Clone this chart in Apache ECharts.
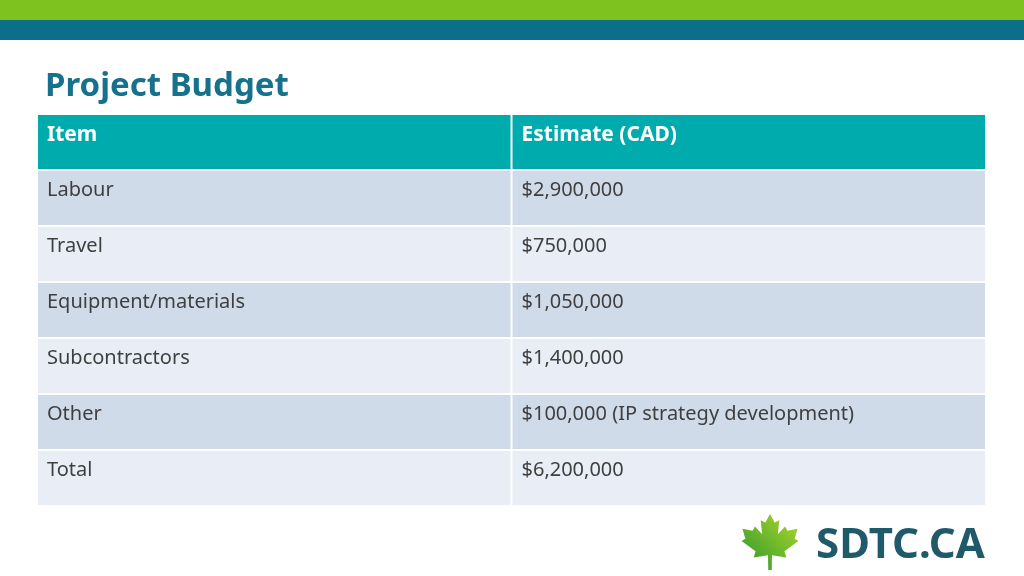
<!DOCTYPE html>
<html>
<head>
<meta charset="utf-8">
<script src="https://cdn.jsdelivr.net/npm/echarts@6/dist/echarts.min.js"></script>
<style>
  html, body { margin: 0; padding: 0; background: #fff; }
  #chart { width: 1024px; height: 576px; }
</style>
</head>
<body>
<div id="chart"></div>
<script>
// table contents
const columns = ["Item", "Estimate (CAD)"];
const items = ["Labour", "Travel", "Equipment/materials", "Subcontractors", "Other", "Total"];
const estimates = ["$2,900,000", "$750,000", "$1,050,000", "$1,400,000", "$100,000 (IP strategy development)", "$6,200,000"];

const rowNames = ["header"].concat(items);

// one cell per (col, row)
const cells = [];
columns.forEach((c, i) => cells.push([i, 0, c]));
items.forEach((it, r) => {
  cells.push([0, r + 1, it]);
  cells.push([1, r + 1, estimates[r]]);
});

const FONT = "'Noto Sans', sans-serif";

const chart = echarts.init(document.getElementById("chart"), null, { renderer: "canvas" });

// maple leaf outline, right half in unit coords (x 0..1, y -1..1), mirrored
const leafHalf = [
  [0, -1], [0.16, -0.7], [0.32, -0.78], [0.27, -0.28], [0.52, -0.55], [0.6, -0.4],
  [0.95, -0.47], [0.85, -0.12], [0.98, -0.04], [0.5, 0.33], [0.56, 0.55],
  [0.07, 0.47], [0.06, 1.0]
];
const leaf = leafHalf.concat([[-0.06, 1.0]]).concat(leafHalf.slice(1, -1).reverse().map(p => [-p[0], p[1]]))
  .map(p => [770 + p[0] * 29, 542 + p[1] * 28]);

chart.setOption({
  animation: false,
  grid: { left: 37, right: 38, top: 114, bottom: 70 },
  xAxis: { type: "category", data: columns, show: false },
  yAxis: { type: "category", data: rowNames, inverse: true, show: false },
  graphic: [
    { type: "rect", shape: { x: 0, y: 0, width: 1024, height: 20 }, style: { fill: "#7dc21e" } },
    { type: "rect", shape: { x: 0, y: 20, width: 1024, height: 20 }, style: { fill: "#0b6f89" } },
    {
      type: "text", left: 45, top: 70,
      style: { text: "Project Budget", fill: "#15718c", font: "bold 33px " + FONT }
    },
    {
      type: "polygon", shape: { points: leaf },
      style: {
        fill: new echarts.graphic.LinearGradient(0, 1, 1, 0, [
          { offset: 0, color: "#2a962e" }, { offset: 1, color: "#b0d82a" }
        ])
      }
    },
    {
      type: "text", left: 816, top: 525,
      style: { text: "SDTC.CA", fill: "#1f5a6b", font: "bold 42px " + FONT }
    }
  ],
  series: [{
    type: "custom",
    data: cells,
    renderItem: (params, api) => {
      const col = api.value(0), row = api.value(1);
      const c = api.coord([col, row]);
      const s = api.size([1, 1]);
      const x = c[0] - s[0] / 2, y = c[1] - s[1] / 2;
      const fill = row === 0 ? "#00abad" : (row % 2 === 1 ? "#d0dbea" : "#e9eef6");
      const text = cells[params.dataIndex][2];
      return {
        type: "group",
        children: [
          { type: "rect", shape: { x: x + 1, y: y + 1, width: s[0] - 2, height: s[1] - 2 }, style: { fill: fill } },
          {
            type: "text", x: x + 10, y: y + (row === 0 ? 21 : 20),
            style: {
              text: text, verticalAlign: "middle",
              fill: row === 0 ? "#ffffff" : "#3f3f3f",
              font: row === 0 ? "bold 21px " + FONT : "20px " + FONT
            }
          }
        ]
      };
    }
  }]
});
</script>
</body>
</html>
